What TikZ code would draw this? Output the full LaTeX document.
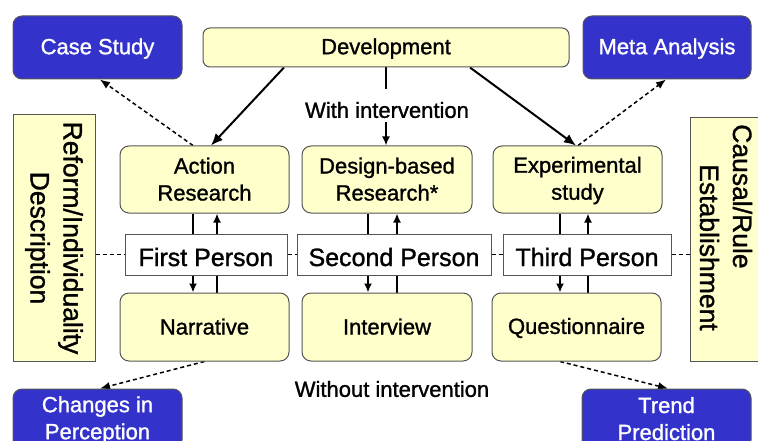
\documentclass[tikz,border=0pt]{standalone}
\usepackage{fontspec}
\setmainfont{Liberation Sans}[FakeBold=1.2]
\usetikzlibrary{arrows.meta,calc,backgrounds}
\definecolor{yel}{HTML}{FFFFCC}
\definecolor{blu}{HTML}{3333CC}
\definecolor{bord}{HTML}{555555}
\newcommand\ystr{\rule[-3pt]{0pt}{21pt}}
\begin{document}
\begin{tikzpicture}[x=1pt,y=-1pt,
  ybox/.style={draw=bord, fill=yel, rounded corners=9pt, line width=1pt, align=center, inner sep=0pt, font=\fontsize{22}{27}\selectfont},
  bbox/.style={draw=bord, fill=blu, text=white, rounded corners=9pt, line width=1pt, align=center, inner sep=0pt, font=\fontsize{22}{27}\selectfont},
  pbox/.style={draw=bord, fill=white, line width=1pt, inner sep=0pt, text height=23pt, text depth=0pt, font=\fontsize{25}{30}\selectfont},
  sbox/.style={draw=bord, fill=yel, line width=1pt, rotate=-90, align=center, inner sep=0pt, font=\fontsize{26.5}{33}\selectfont},
  lbl/.style={inner sep=0pt, font=\fontsize{22}{26}\selectfont},
  arr/.style={line width=2pt, -{Latex[length=12pt,width=10pt]}},
  varr/.style={line width=2pt, -{Latex[length=9pt,width=8pt]}},
  vline/.style={line width=2pt},
  darr/.style={line width=1.5pt, dash pattern=on 4pt off 3pt, -{Latex[length=10pt,width=8pt]}},
  dline/.style={line width=1.5pt, dash pattern=on 4pt off 3pt}
]
\clip (0,0) rectangle (758,441);

\node[bbox, minimum width=169pt, minimum height=63pt] (cs) at (97.5,47.5) {\ystr Case Study};
\node[ybox, minimum width=366pt, minimum height=39pt, rounded corners=7pt] (dev) at (386,47.5) {\ystr Development};
\node[bbox, minimum width=168pt, minimum height=63pt] (meta) at (667,47.5) {\ystr Meta Analysis};

\node[sbox, minimum width=246pt, minimum height=82pt] (lb) at (54,238) {Reform/Individuality\\Description};
\node[sbox, align=left, minimum width=243pt, minimum height=72pt] (rb) at (726,239.5) {Causal/Rule\\\hspace*{40pt}Establishment\hspace*{24pt}};

\node[ybox, minimum width=169pt, minimum height=67pt] (ar) at (204.5,179.5) {\ystr Action\\\ystr Research};
\node[ybox, minimum width=170pt, minimum height=67pt] (dbr) at (387,179.5) {\ystr Design-based\\\ystr Research*};
\node[ybox, minimum width=169pt, minimum height=67pt] (exp) at (577.5,179.5) {\ystr Experimental\\\ystr study};

\node[pbox, minimum width=162pt, minimum height=41pt] (p1) at (206,254.5) {First Person};
\node[pbox, minimum width=194pt, minimum height=41pt] (p2) at (394,254.5) {Second Person};
\node[pbox, minimum width=168pt, minimum height=41pt] (p3) at (587,254.5) {Third Person};

\node[ybox, minimum width=169pt, minimum height=68pt] (nar) at (204.5,327) {\ystr Narrative};
\node[ybox, minimum width=170pt, minimum height=68pt] (int) at (387,327) {\ystr Interview};
\node[ybox, minimum width=169pt, minimum height=68pt] (que) at (576.5,327) {\ystr Questionnaire};

\node[bbox, minimum width=169pt, minimum height=60pt] (chg) at (97.5,419) {\ystr Changes in\\\ystr Perception};
\node[bbox, minimum width=169pt, minimum height=60pt] (tp) at (666.5,419) {\ystr Trend\\\ystr Prediction};

\node[lbl] (wi) at (387,110) {With intervention};
\node[lbl] (wo) at (392,389) {Without intervention};
\coordinate (wtop) at (386,89);
\coordinate (wbot) at (386,122);

\coordinate (a1) at ($(ar.south)+(-11.5,0)$);
\coordinate (a2) at ($(ar.south)+(12.5,0)$);
\coordinate (b1) at ($(dbr.south)+(-19,0)$);
\coordinate (b2) at ($(dbr.south)+(10,0)$);
\coordinate (c1) at ($(exp.south)+(-17.5,0)$);
\coordinate (c2) at ($(exp.south)+(10.5,0)$);

\begin{pgfonlayer}{background}
\fill[white] (0,0) rectangle (758,441);
\draw[arr] ($(dev.south)+(-102,0)$) -- ($(ar.north)+(6.5,0)$);
\draw[arr] ($(dev.south)+(84,0)$) -- ($(exp.north)+(-1.5,0)$);
\draw[vline] (dev.south) -- (wtop);
\draw[varr] (wbot) -- (wbot |- dbr.north);

\draw[darr] ($(ar.north)+(-11.5,0)$) -- ($(cs.south)+(2.5,0)$);
\draw[darr] ($(exp.north)+(0.5,0)$) -- ($(meta.south)+(-1,0)$);
\draw[darr] (nar.south) -- ($(chg.north)+(2.5,0)$);
\draw[darr] ($(que.south)+(-16.5,0)$) -- ($(tp.north)+(1.5,0)$);

\draw[varr] (a1) -- (a1 |- nar.north);
\draw[varr] (a2 |- nar.north) -- (a2);
\draw[varr] (b1) -- (b1 |- int.north);
\draw[varr] (b2 |- int.north) -- (b2);
\draw[varr] (c1) -- (c1 |- que.north);
\draw[varr] (c2 |- que.north) -- (c2);

\draw[dline] (p1.west -| lb.north) -- (p1.west);
\draw[dline] (p1.east) -- (p1.east -| p2.west);
\draw[dline] (p2.east) -- (p2.east -| p3.west);
\draw[dline] (p3.east) -- (p3.east -| rb.south);
\end{pgfonlayer}
\end{tikzpicture}
\end{document}
